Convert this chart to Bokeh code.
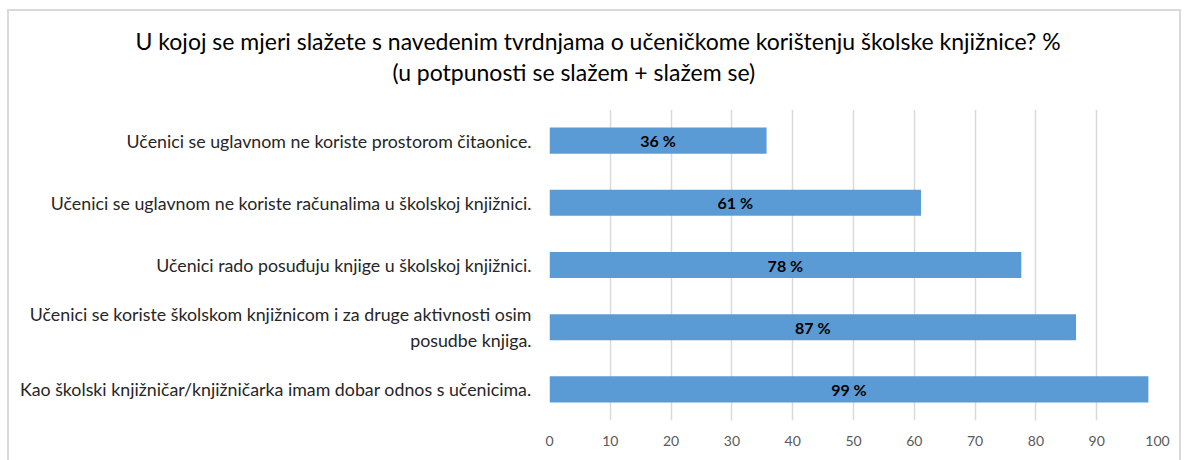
from bokeh.plotting import figure
from bokeh.models import Title, ColumnDataSource, FixedTicker
from bokeh.core.properties import value
from bokeh.embed import file_html
from bokeh.resources import INLINE

categories = [
    "Učenici se uglavnom ne koriste prostorom čitaonice.",
    "Učenici se uglavnom ne koriste računalima u školskoj knjižnici.",
    "Učenici rado posuđuju knjige u školskoj knjižnici.",
    "Učenici se koriste školskom knjižnicom i za druge aktivnosti osim\nposudbe knjiga.",
    "Kao školski knjižničar/knjižničarka imam dobar odnos s učenicima.",
]
values = [35.7, 61.1, 77.6, 86.6, 98.5]
bar_labels = ["36 %", "61 %", "78 %", "87 %", "99 %"]
x_ticks = [0, 10, 20, 30, 40, 50, 60, 70, 80, 90, 100]
title_lines = [
    "U kojoj se mjeri slažete s navedenim tvrdnjama o učeničkome korištenju školske knjižnice? %",
    "(u potpunosti se slažem + slažem se)",
]
title_offsets = [-414, -157]

FONT = "Lato"

src = ColumnDataSource(dict(cat=categories, val=values, mid=[v / 2 for v in values], lab=bar_labels))

p = figure(
    width=1174, height=451,
    y_range=list(reversed(categories)), x_range=(0, 100),
    output_backend="svg", toolbar_location=None,
    min_border_left=542, min_border_right=24, min_border_top=100, min_border_bottom=40,
)
p.styles = {"margin-left": "7px", "margin-top": "9px",
            "box-shadow": "inset 2px 2px 0 #d9d9d9, inset -2px 0 0 #d9d9d9"}
p.border_fill_color = None
p.outline_line_color = None
p.background_fill_color = "white"

p.hbar(y="cat", right="val", left=0, height=0.42, source=src, color="#5B9BD5", line_color=None)
p.text(x="mid", y="cat", text="lab", source=src, text_align="center", text_baseline="middle",
       text_font=value(FONT), text_font_size="16px", text_font_style="bold", text_color="black")

p.xgrid.grid_line_color = "#d9d9d9"
p.xgrid.grid_line_width = 1.5
p.ygrid.grid_line_color = None
p.xaxis.ticker = FixedTicker(ticks=x_ticks)
p.xaxis.axis_line_color = None
p.xaxis.major_tick_line_color = None
p.xaxis.minor_tick_line_color = None
p.xaxis.major_label_text_font = FONT
p.xaxis.major_label_text_font_size = "14px"
p.xaxis.major_label_text_color = "#595959"
p.xaxis.major_label_standoff = 9

p.yaxis.axis_line_color = None
p.yaxis.major_tick_line_color = None
p.yaxis.minor_tick_line_color = None
p.yaxis.major_label_text_font = FONT
p.yaxis.major_label_text_font_size = "17.8px"
p.yaxis.major_label_text_color = "#262626"
p.yaxis.major_label_standoff = 12
p.yaxis.major_label_text_align = "center"

# spacer between the title and the plot area
p.add_layout(Title(text=" ", text_font=FONT, text_font_size="14px", standoff=4), "above")
for t, off in reversed(list(zip(title_lines, title_offsets))):
    p.add_layout(Title(text=t, align="left", offset=off, text_font=FONT, text_font_size="23px",
                       text_font_style="normal", text_color="black", standoff=1), "above")

open("out.html", "w").write(file_html(p, INLINE))
